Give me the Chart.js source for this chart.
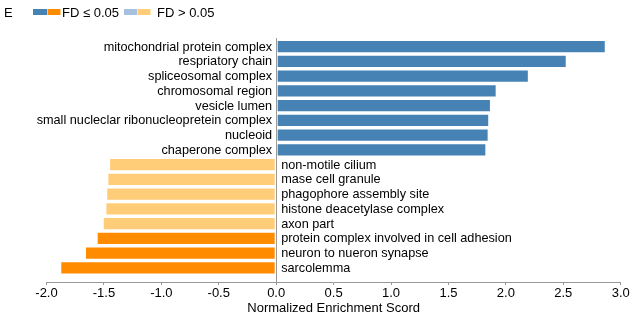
<!DOCTYPE html>
<html>
<head>
<meta charset="utf-8">
<script src="https://cdn.jsdelivr.net/npm/chart.js@4/dist/chart.umd.min.js"></script>
<style>
  html, body { margin: 0; padding: 0; background: #fff; }
  #wrap { width: 633px; height: 318px; position: relative; }
</style>
</head>
<body>
<div id="wrap"><canvas id="c" width="633" height="318"></canvas></div>
<script>
const categories = [
  "mitochondrial protein complex",
  "respriatory chain",
  "spliceosomal complex",
  "chromosomal region",
  "vesicle lumen",
  "small nucleclar ribonucleopretein complex",
  "nucleoid",
  "chaperone complex",
  "non-motile cilium",
  "mase cell granule",
  "phagophore assembly site",
  "histone deacetylase complex",
  "axon part",
  "protein complex involved in cell adhesion",
  "neuron to nueron synapse",
  "sarcolemma"
];
const nesValues = [2.87, 2.53, 2.20, 1.92, 1.87, 1.855, 1.85, 1.83,
                   -1.455, -1.47, -1.48, -1.487, -1.51, -1.563, -1.665, -1.88];
const significant = [true, true, true, true, true, true, true, true,
                     false, false, false, false, false, true, true, true];
const xTicks = [-2.0, -1.5, -1.0, -0.5, 0.0, 0.5, 1.0, 1.5, 2.0, 2.5, 3.0];
const legendLabels = ["FD \u2264 0.05", "FD > 0.05"];
const panelLabel = "E";
const axisTitle = "Normalized Enrichment Scord";

const COLORS = {
  posSig: "#4682b4", negSig: "#ff8c00",
  posNs: "#a8c0df", negNs: "#ffcc77"
};
function barColor(v, s) {
  if (v >= 0) return s ? COLORS.posSig : COLORS.posNs;
  return s ? COLORS.negSig : COLORS.negNs;
}
const FONT = "'Liberation Sans', Arial, Helvetica, sans-serif";
const Y_MIN = -0.59, Y_MAX = 15.95;

const labelPlugin = {
  id: 'rowLabels',
  afterDatasetsDraw(chart) {
    const ctx = chart.ctx;
    const xs = chart.scales.x, ys = chart.scales.y;
    const x0 = xs.getPixelForValue(0);
    ctx.save();
    ctx.font = "12.7px " + FONT;
    ctx.fillStyle = "#000";
    ctx.textBaseline = "middle";
    categories.forEach((name, i) => {
      const y = ys.getPixelForValue(i) + 0.5;
      if (nesValues[i] >= 0) {
        ctx.textAlign = "right";
        ctx.fillText(name, x0 - 4, y);
      } else {
        ctx.textAlign = "left";
        ctx.fillText(name, x0 + 5, y);
      }
    });
    // legend
    ctx.font = "13px " + FONT;
    ctx.textAlign = "left";
    ctx.fillText(panelLabel, 4, 13);
    ctx.fillStyle = COLORS.posSig; ctx.fillRect(33, 9, 14, 6);
    ctx.fillStyle = COLORS.negSig; ctx.fillRect(47.5, 9, 13, 6);
    ctx.fillStyle = "#000"; ctx.fillText(legendLabels[0], 62, 13);
    ctx.fillStyle = COLORS.posNs; ctx.fillRect(124, 9, 13, 6);
    ctx.fillStyle = COLORS.negNs; ctx.fillRect(137.5, 9, 13, 6);
    ctx.fillStyle = "#000"; ctx.fillText(legendLabels[1], 157, 13);
    ctx.restore();
  }
};

new Chart(document.getElementById('c'), {
  type: 'bar',
  data: {
    datasets: [{
      data: nesValues.map((v, i) => ({ x: v, y: i })),
      backgroundColor: nesValues.map((v, i) => barColor(v, significant[i])),
      borderColor: "rgba(255,255,255,0.35)",
      borderWidth: 1,
      borderSkipped: false,
      categoryPercentage: 1.0,
      barPercentage: 0.9
    }]
  },
  options: {
    indexAxis: 'y',
    responsive: false,
    animation: false,
    devicePixelRatio: 1,
    layout: { padding: { top: 38, left: 46.5, right: 12.3, bottom: 0 } },
    plugins: { legend: { display: false }, tooltip: { enabled: false } },
    scales: {
      y: {
        type: 'linear',
        reverse: true,
        offset: false,
        bounds: 'data',
        min: Y_MIN,
        max: Y_MAX,
        grid: { offset: false },
        afterBuildTicks(scale) {
          scale.min = Y_MIN; scale.max = Y_MAX;
          scale.ticks = categories.map((_, i) => ({ value: i }));
        },
        display: false
      },
      x: {
        type: 'linear',
        min: -2,
        max: 3,
        afterBuildTicks(scale) { scale.ticks = xTicks.map(v => ({ value: v })); },
        afterFit(scale) { scale.height = 36; },
        border: { display: true, color: "#999", width: 1 },
        grid: {
          drawOnChartArea: true,
          tickLength: 3,
          color: ctx => (ctx.tick && ctx.tick.value === 0) ? "#999" : "rgba(0,0,0,0)",
          tickColor: "#999"
        },
        ticks: {
          padding: 1,
          color: "#000",
          font: { family: FONT, size: 13 },
          callback: v => Number(v).toFixed(1),
          maxRotation: 0
        },
        title: {
          display: true,
          text: axisTitle,
          color: "#000",
          font: { family: FONT, size: 13 },
          padding: { top: 0, bottom: 2 }
        }
      }
    }
  },
  plugins: [labelPlugin]
});
</script>
</body>
</html>
